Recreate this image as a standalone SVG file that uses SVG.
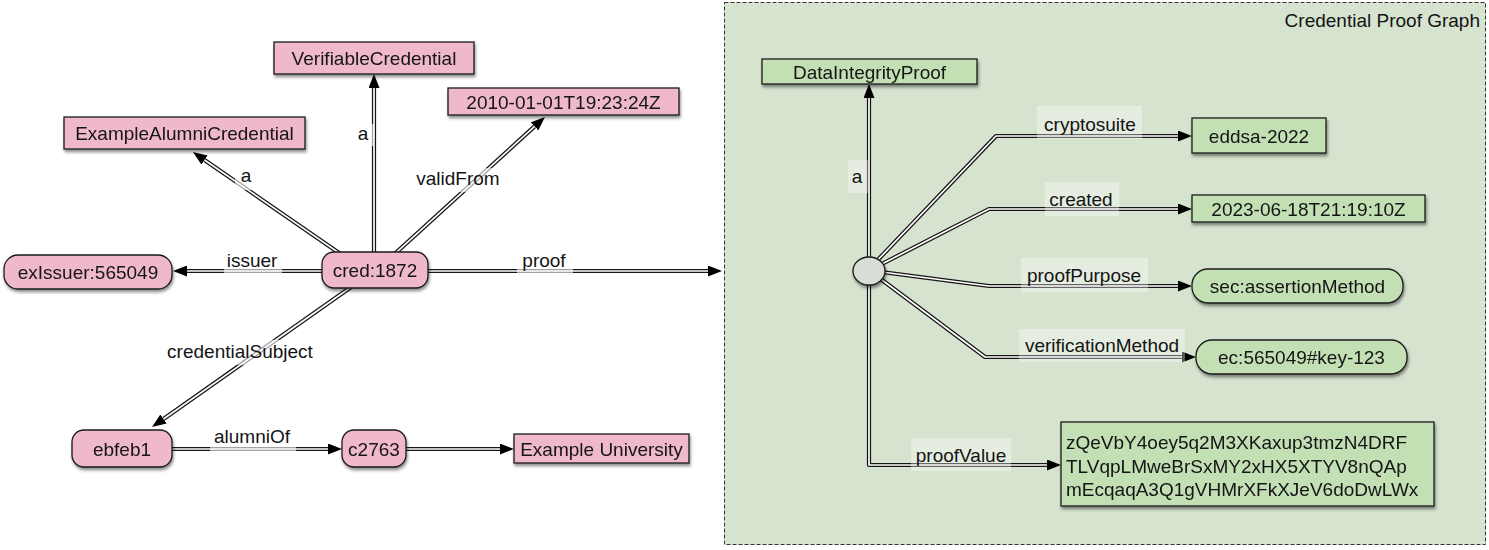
<svg xmlns="http://www.w3.org/2000/svg" width="1489" height="550" viewBox="0 0 1489 550">
<style>
text{font-family:"Liberation Sans",Arial,Helvetica,sans-serif;font-size:19px;fill:#141414}
.c{text-anchor:middle}
.pink{fill:#efb8cc;stroke:#1a1a1a;stroke-width:1.3}
.green{fill:#c3dfb4;stroke:#1a1a1a;stroke-width:1.3}
.o{fill:none;stroke:#151515;stroke-width:4.2;stroke-linejoin:round}
.i{fill:none;stroke:#ffffff;stroke-width:1.7;stroke-linejoin:round}
.lbw{fill:#ffffff;fill-opacity:0.6}
.lbg{fill:#ffffff;fill-opacity:0.35}
</style>
<defs>
<marker id="ah" markerUnits="userSpaceOnUse" markerWidth="15" markerHeight="11" refX="0" refY="5.5" orient="auto"><path d="M0,0 L14,5.5 L0,11 Z" fill="#000"/></marker>
<filter id="sh" x="-10%" y="-20%" width="130%" height="160%"><feDropShadow dx="1" dy="2.5" stdDeviation="1.5" flood-color="#000" flood-opacity="0.45"/></filter>
</defs>
<rect id="proofGraph" x="724.5" y="2.5" width="761" height="542" fill="#d6e3cf" stroke="#333" stroke-width="1" stroke-dasharray="4,2"/>
<text x="1480" y="27" text-anchor="end">Credential Proof Graph</text>
<g id="connectors">
<g><path class="o" d="M374,270 L374,88" marker-end="url(#ah)"/><path class="i" d="M374,270 L374,88"/><rect class="lbw" x="353" y="124" width="21" height="22"/><text class="c" x="363" y="140">a</text></g>
<g><path class="o" d="M350,260.5 L204.5,160" marker-end="url(#ah)"/><path class="i" d="M350,260.5 L204.5,160"/><rect class="lbw" x="235" y="165" width="26" height="25"/><text class="c" x="246" y="182">a</text></g>
<g><path class="o" d="M388,260 L534.6,126.4" marker-end="url(#ah)"/><path class="i" d="M388,260 L534.6,126.4"/><rect class="lbw" x="414" y="168" width="88" height="24"/><text class="c" x="458" y="185">validFrom</text></g>
<g><path class="o" d="M340,271 L187,271" marker-end="url(#ah)"/><path class="i" d="M340,271 L187,271"/><rect class="lbw" x="224" y="251" width="58" height="24"/><text class="c" x="252" y="267">issuer</text></g>
<g><path class="o" d="M410,271 L708,271" marker-end="url(#ah)"/><path class="i" d="M410,271 L708,271"/><rect class="lbw" x="517" y="251" width="56" height="24"/><text class="c" x="544" y="267">proof</text></g>
<g><path class="o" d="M354,285 L163.5,419" marker-end="url(#ah)"/><path class="i" d="M354,285 L163.5,419"/><rect class="lbw" x="163" y="340" width="155" height="25"/><text class="c" x="240" y="358">credentialSubject</text></g>
<g><path class="o" d="M160,449 L328,449" marker-end="url(#ah)"/><path class="i" d="M160,449 L328,449"/><rect class="lbw" x="210" y="428" width="86" height="25"/><text class="c" x="252" y="443">alumniOf</text></g>
<g><path class="o" d="M395,449 L500,449" marker-end="url(#ah)"/><path class="i" d="M395,449 L500,449"/></g>
<g><path class="o" d="M869,271 L869,98" marker-end="url(#ah)"/><path class="i" d="M869,271 L869,98"/><rect class="lbg" x="848" y="160" width="20" height="33"/><text class="c" x="857" y="183">a</text></g>
<g><path class="o" d="M872,266 L996,136 L1178,136" marker-end="url(#ah)"/><path class="i" d="M872,266 L996,136 L1178,136"/><rect class="lbg" x="1037" y="106" width="105" height="33"/><text class="c" x="1090" y="131">cryptosuite</text></g>
<g><path class="o" d="M874,268 L989,209 L1178,209" marker-end="url(#ah)"/><path class="i" d="M874,268 L989,209 L1178,209"/><rect class="lbg" x="1045" y="182" width="74" height="34"/><text class="c" x="1081" y="206">created</text></g>
<g><path class="o" d="M874,271 L989,286 L1178,286" marker-end="url(#ah)"/><path class="i" d="M874,271 L989,286 L1178,286"/><rect class="lbg" x="1021" y="258" width="127" height="34"/><text class="c" x="1084" y="282">proofPurpose</text></g>
<g><path class="o" d="M874,274 L985,357 L1182,357" marker-end="url(#ah)"/><path class="i" d="M874,274 L985,357 L1182,357"/><rect class="lbg" x="1019" y="329" width="166" height="33"/><text class="c" x="1102" y="352">verificationMethod</text></g>
<g><path class="o" d="M869,275 L869,465 L1047,465" marker-end="url(#ah)"/><path class="i" d="M869,275 L869,465 L1047,465"/><rect class="lbg" x="911" y="438" width="100" height="33"/><text class="c" x="961" y="462">proofValue</text></g>
</g>
<g id="n-vc" filter="url(#sh)"><rect class="pink" x="274" y="42" width="200" height="32"/><text class="c" x="374" y="65">VerifiableCredential</text></g>
<g id="n-eac" filter="url(#sh)"><rect class="pink" x="64" y="117" width="241" height="32"/><text class="c" x="184.5" y="140">ExampleAlumniCredential</text></g>
<g id="n-date" filter="url(#sh)"><rect class="pink" x="448" y="88" width="231" height="27"/><text class="c" x="563.5" y="108.5">2010-01-01T19:23:24Z</text></g>
<g id="n-issuer" filter="url(#sh)"><rect class="pink" x="4" y="255" width="168" height="34" rx="14"/><text class="c" x="88" y="279">exIssuer:565049</text></g>
<g id="n-cred" filter="url(#sh)"><rect class="pink" x="322" y="252" width="106" height="36" rx="12"/><text class="c" x="375" y="277">cred:1872</text></g>
<g id="n-ebfeb1" filter="url(#sh)"><rect class="pink" x="72" y="430" width="100" height="37" rx="12"/><text class="c" x="122" y="456">ebfeb1</text></g>
<g id="n-c2763" filter="url(#sh)"><rect class="pink" x="342" y="430" width="64" height="37" rx="12"/><text class="c" x="374" y="456">c2763</text></g>
<g id="n-univ" filter="url(#sh)"><rect class="pink" x="514" y="434" width="175" height="29"/><text class="c" x="601.5" y="455.5">Example University</text></g>
<g id="n-dip" filter="url(#sh)"><rect class="green" x="762" y="59" width="215" height="25"/><text class="c" x="869.5" y="78.5">DataIntegrityProof</text></g>
<g id="n-eddsa" filter="url(#sh)"><rect class="green" x="1192" y="118" width="134" height="35"/><text class="c" x="1259" y="142.5">eddsa-2022</text></g>
<g id="n-created" filter="url(#sh)"><rect class="green" x="1192" y="195" width="233" height="27"/><text class="c" x="1308.5" y="215.5">2023-06-18T21:19:10Z</text></g>
<g id="n-purpose" filter="url(#sh)"><rect class="green" x="1192" y="269" width="211" height="34" rx="16"/><text class="c" x="1297.5" y="293">sec:assertionMethod</text></g>
<g id="n-vm" filter="url(#sh)"><rect class="green" x="1196" y="340" width="211" height="34" rx="16"/><text class="c" x="1301.5" y="364">ec:565049#key-123</text></g>
<g id="n-value" filter="url(#sh)"><rect class="green" x="1061" y="422" width="373" height="84"/><text x="1066" y="449">zQeVbY4oey5q2M3XKaxup3tmzN4DRF</text><text x="1066" y="473">TLVqpLMweBrSxMY2xHX5XTYV8nQAp</text><text x="1066" y="496">mEcqaqA3Q1gVHMrXFkXJeV6doDwLWx</text></g>
<g id="n-blank" filter="url(#sh)"><ellipse cx="869" cy="271" rx="16" ry="14" fill="#d8ddd5" stroke="#1a1a1a" stroke-width="1.3"/></g>
</svg>
